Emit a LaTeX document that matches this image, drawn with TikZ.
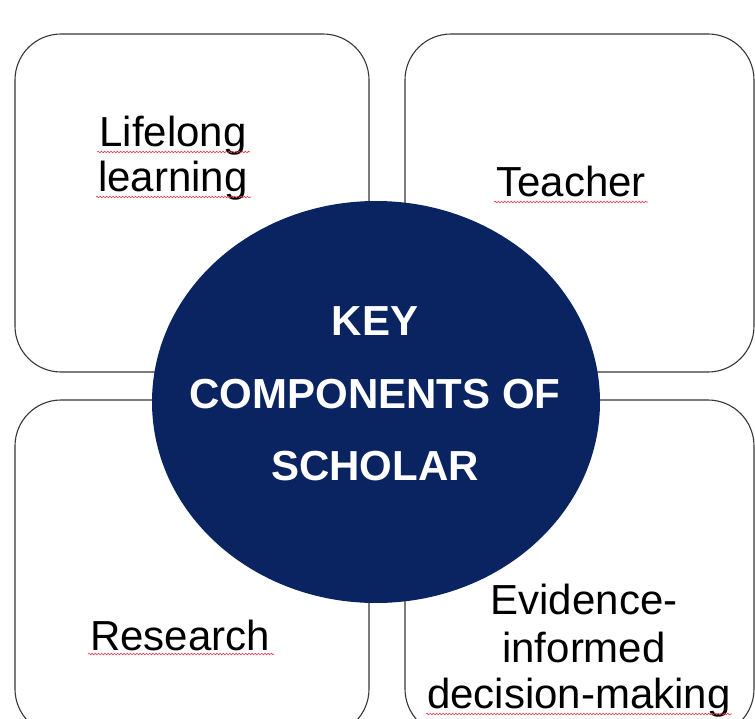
\documentclass[tikz,border=0pt]{standalone}
\usepackage{fontspec}
\setmainfont{Liberation Sans}
\usetikzlibrary{decorations.pathmorphing}
\definecolor{navy}{RGB}{9,36,96}
\definecolor{boxline}{RGB}{55,55,55}
\definecolor{spell}{RGB}{225,60,80}
\tikzset{
  compbox/.style={draw=boxline, line width=1.1pt, rounded corners=46pt, fill=white},
  boxtext/.style={inner sep=0pt, anchor=base, font=\fontsize{42}{46}\selectfont, text=black},
  keytext/.style={inner sep=0pt, anchor=base, font=\fontsize{42}{46}\selectfont\bfseries, text=white},
  squiggle/.style={draw=spell, line width=0.6pt, decorate, decoration={snake, amplitude=0.8pt, segment length=3.2pt}}
}
\begin{document}
\begin{tikzpicture}[x=1pt, y=-1pt]
\useasboundingbox (0,0) rectangle (755,719);
\clip (0,0) rectangle (755,719);
\fill[white] (0,0) rectangle (755,719);
% four boxes
\draw[compbox] (15,34) rectangle (369,372);
\draw[compbox] (405,34) rectangle (754,372);
\draw[compbox] (15,400) rectangle (369,735);
\draw[compbox] (405,400) rectangle (754,735);
% central ellipse
\fill[navy] (376,402) ellipse [x radius=224, y radius=201];
% box texts
\node[boxtext] (ll1) at (173,147) {Lifelong};
\node[boxtext] (ll2) at (173,192) {learning};
\node[boxtext] (te) at (571,197) {Teacher};
\node[boxtext] (re) at (180,650) {Research};
\node[boxtext] (ev1) at (584,614) {Evidence-};
\node[boxtext] (ev2) at (584,662) {informed};
\node[boxtext] (ev3) at (579,708) {decision-making};
% spell-check underlines
\draw[squiggle] ([shift={(-2,5)}]ll1.base west) -- ([shift={(3,5)}]ll1.base east);
\draw[squiggle] ([shift={(-2,5)}]ll2.base west) -- ([shift={(3,5)}]ll2.base east);
\draw[squiggle] ([shift={(-2,5)}]te.base west) -- ([shift={(2,5)}]te.base east);
\draw[squiggle] ([shift={(-2,4)}]re.base west) -- ([shift={(4,4)}]re.base east);
\draw[squiggle] ([shift={(-1,6)}]ev3.base west) -- ([shift={(1,6)}]ev3.base east);
% central text
\node[keytext] (k1) at (375,336) {KEY};
\node[keytext] (k2) at (375,408) {COMPONENTS OF};
\node[keytext] (k3) at (375,480) {SCHOLAR};
\end{tikzpicture}
\end{document}
